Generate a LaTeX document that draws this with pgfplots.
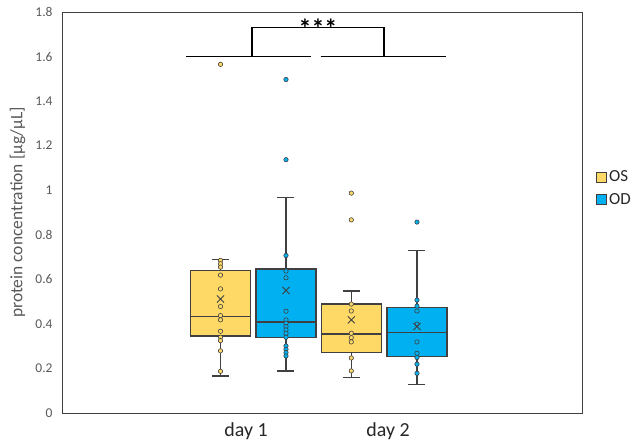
\documentclass[border=0pt]{standalone}
\usepackage{fontspec}
\setmainfont{Carlito}
\usepackage{pgfplots}
\pgfplotsset{compat=1.18}
\usepgfplotslibrary{statistics}
\definecolor{osY}{HTML}{FFD966}
\definecolor{odB}{HTML}{00B0F0}
\definecolor{edge}{HTML}{404040}
\definecolor{txt}{HTML}{595959}
\begin{document}
\begin{tikzpicture}
\begin{axis}[
 at={(0,0)}, anchor=south west,
 scale only axis, width=520bp, height=401bp,
 xmin=0, xmax=5.2, ymin=0, ymax=1.8,
 boxplot/draw direction=y,
 xtick={1.84,3.26}, xticklabels={day 1, day 2},
 ytick={0,0.2,0.4,0.6,0.8,1,1.2,1.4,1.6,1.8},
 major tick length=0,
 axis line style={edge, line width=0.9bp},
 /pgf/number format/assume math mode=true,
 yticklabel style={font=\fontsize{13.5}{16}\selectfont, text=txt, inner sep=0pt, xshift=-9.3bp},
 xticklabel style={font=\fontsize{20}{24}\selectfont, text=black!85, inner sep=0pt, anchor=north, yshift=-9.5bp},
 ylabel={protein concentration [µg/µL]},
 ylabel style={font=\fontsize{17.5}{20}\selectfont, text=txt, at={(axis description cs:-0.0856,0.5)}, anchor=center},
 clip=false,
 legend style={at={(rel axis cs:1,0.56)}, anchor=west, xshift=14bp, draw=none, fill=none, inner sep=0pt, row sep=6bp, font=\fontsize{17}{20}\selectfont, text=black!85, nodes={inner sep=2bp}},
 legend cell align=left,
 legend image code/.code={\draw[#1] (0bp,-5bp) rectangle (10bp,5bp);},
]
% day 1 OS
\addplot[boxplot prepared={draw position=1.585, lower whisker=0.166, lower quartile=0.346, median=0.433, upper quartile=0.640, upper whisker=0.688, box extend=0.6, whisker extend=0.17}, draw=edge, fill=osY, line width=1.3bp, forget plot] coordinates {};
% day 1 OD
\addplot[boxplot prepared={draw position=2.24, lower whisker=0.189, lower quartile=0.338, median=0.408, upper quartile=0.646, upper whisker=0.968, box extend=0.6, whisker extend=0.17}, draw=edge, fill=odB, line width=1.3bp, forget plot] coordinates {};
% day 2 OS
\addplot[boxplot prepared={draw position=2.893, lower whisker=0.159, lower quartile=0.273, median=0.354, upper quartile=0.489, upper whisker=0.547, box extend=0.6, whisker extend=0.17}, draw=edge, fill=osY, line width=1.3bp, forget plot] coordinates {};
% day 2 OD
\addplot[boxplot prepared={draw position=3.55, lower whisker=0.127, lower quartile=0.253, median=0.361, upper quartile=0.473, upper whisker=0.728, box extend=0.6, whisker extend=0.17}, draw=edge, fill=odB, line width=1.3bp, forget plot] coordinates {};

% points
\addplot[only marks, mark=*, mark size=2.2bp, mark options={fill=osY, draw=edge, line width=0.6bp}, forget plot] coordinates {
(1.585,0.685)(1.585,0.670)(1.585,0.655)(1.585,0.619)(1.585,0.557)(1.585,0.478)(1.585,0.437)(1.585,0.418)(1.585,0.367)(1.585,0.340)(1.585,0.325)(1.585,0.279)(1.585,0.187)(1.585,1.565)
(2.893,0.987)(2.893,0.867)(2.893,0.489)(2.893,0.458)(2.893,0.358)(2.893,0.338)(2.893,0.319)(2.893,0.247)(2.893,0.189)};
\addplot[only marks, mark=*, mark size=2.2bp, mark options={fill=odB, draw=edge, line width=0.6bp}, forget plot] coordinates {
(2.24,1.497)(2.24,1.137)(2.24,0.707)(2.24,0.637)(2.24,0.607)(2.24,0.457)(2.24,0.418)(2.24,0.403)(2.24,0.388)(2.24,0.373)(2.24,0.358)(2.24,0.340)(2.24,0.301)(2.24,0.286)(2.24,0.271)(2.24,0.256)
(3.55,0.857)(3.55,0.507)(3.55,0.480)(3.55,0.458)(3.55,0.399)(3.55,0.319)(3.55,0.268)(3.55,0.249)(3.55,0.219)(3.55,0.178)};
% means
\addplot[only marks, mark=x, mark size=5bp, mark options={draw=edge, line width=0.9bp}, forget plot] coordinates {
(1.585,0.512)(2.24,0.550)(2.893,0.418)(3.55,0.388)};

% significance bracket
\addplot[black, line width=1.3bp, forget plot] coordinates {(1.24,1.6)(2.49,1.6)};
\addplot[black, line width=1.3bp, forget plot] coordinates {(2.587,1.6)(3.837,1.6)};
\addplot[black, line width=1.3bp, forget plot] coordinates {(1.90,1.6)(1.90,1.73)(3.22,1.73)(3.22,1.6)};
\node[font=\fontsize{26}{30}\selectfont\bfseries, inner sep=0pt] at (axis cs:2.56,1.728) {***};

\addlegendimage{fill=osY, draw=edge, line width=0.9bp}
\addlegendimage{fill=odB, draw=edge, line width=0.9bp}
\legend{OS, OD}
\end{axis}
\pgfresetboundingbox
\path[use as bounding box] (-62bp,-30bp) rectangle (573bp,413bp);
\end{tikzpicture}
\end{document}
